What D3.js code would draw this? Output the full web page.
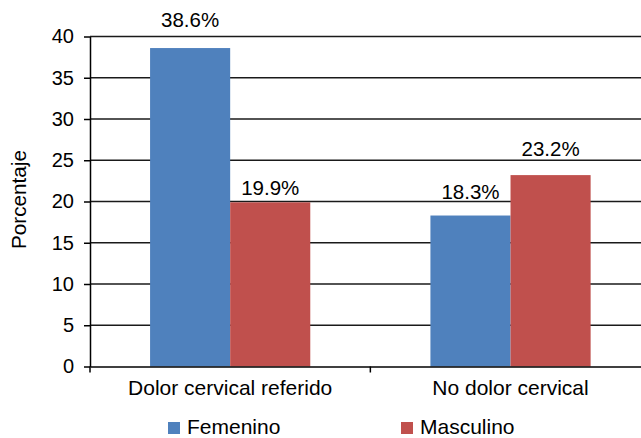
<!DOCTYPE html>
<html>
<head>
<meta charset="utf-8">
<script src="https://cdn.jsdelivr.net/npm/d3@7"></script>
<style>
  html, body { margin: 0; padding: 0; background: #fff; }
  svg { display: block; font-family: "Liberation Sans", Arial, sans-serif; }
</style>
</head>
<body>
<svg id="chart" width="641" height="438"></svg>
<script>
// Percentages by group and sex
const categories = ["Dolor cervical referido", "No dolor cervical"];
const seriesNames = ["Femenino", "Masculino"];
const femenino = [38.6, 18.3];
const masculino = [19.9, 23.2];
const yTicks = [0, 5, 10, 15, 20, 25, 30, 35, 40];
const colors = ["#4F81BD", "#C0504D"];
// Gap (px) between each value label baseline and its bar top, per series / category
const labelGap = [[21.3, 16.2], [7.3, 19.5]];

const series = [femenino, masculino];
const svg = d3.select("#chart");
const FONT = "Liberation Sans, Arial, sans-serif";

const plotLeft = 90, plotRight = 650.7, plotTop = 36.5, plotBottom = 366.5;

const x = d3.scaleBand().domain(categories).range([plotLeft, plotRight]).paddingInner(0).paddingOuter(0);
const xInner = d3.scaleBand().domain(seriesNames).range([0, x.bandwidth()]).paddingInner(0).paddingOuter(0.75);
const y = d3.scaleLinear().domain([0, 40]).range([plotBottom, plotTop]);

// Horizontal gridlines
svg.append("g").selectAll("line").data(yTicks.filter(t => t > 0)).join("line")
  .attr("x1", plotLeft).attr("x2", plotRight)
  .attr("y1", d => y(d)).attr("y2", d => y(d))
  .attr("stroke", "#1a1a1a").attr("stroke-width", 1.5);

// Bars
const groups = svg.append("g").selectAll("g").data(categories).join("g")
  .attr("transform", d => `translate(${x(d)},0)`);

const cells = (c, i) => seriesNames.map((s, k) => ({ s, v: series[k][i], k, i }));

groups.selectAll("rect").data(cells)
  .join("rect")
  .attr("x", d => xInner(d.s))
  .attr("width", xInner.bandwidth())
  .attr("y", d => y(d.v))
  .attr("height", d => y(0) - y(d.v))
  .attr("fill", d => colors[d.k]);

// Value labels
groups.selectAll("text").data(cells)
  .join("text")
  .attr("x", d => xInner(d.s) + xInner.bandwidth() / 2)
  .attr("y", d => y(d.v) - labelGap[d.k][d.i])
  .attr("text-anchor", "middle")
  .attr("font-size", 20.5)
  .attr("fill", "#000")
  .text(d => d.v.toFixed(1) + "%");

// Y axis
const yAxis = d3.axisLeft(y).tickValues(yTicks).tickSize(6).tickPadding(10).tickSizeOuter(0);
const gy = svg.append("g").attr("transform", `translate(${plotLeft},0)`).call(yAxis);
gy.attr("font-family", FONT);
gy.select(".domain").attr("stroke", "#000").attr("stroke-width", 1.5);
gy.selectAll(".tick line").attr("stroke", "#000").attr("stroke-width", 1.5);
gy.selectAll(".tick text").attr("font-size", 20).attr("fill", "#000");

// X axis
const xAxis = d3.axisBottom(x).tickSize(0).tickPadding(13.5);
const gx = svg.append("g").attr("transform", `translate(0,${plotBottom})`).call(xAxis);
gx.attr("font-family", FONT);
gx.select(".domain").attr("stroke", "#000").attr("stroke-width", 1.5);
gx.selectAll(".tick text").attr("font-size", 21).attr("fill", "#000");

// Category separator ticks
const edges = [plotLeft].concat(categories.map(c => x(c) + x.bandwidth()));
svg.append("g").selectAll("line").data(edges).join("line")
  .attr("x1", d => d).attr("x2", d => d)
  .attr("y1", plotBottom).attr("y2", plotBottom + 6)
  .attr("stroke", "#000").attr("stroke-width", 1.5);

// Y axis title
svg.append("text")
  .attr("transform", `translate(25.5,199.5) rotate(-90)`)
  .attr("text-anchor", "middle")
  .attr("font-size", 20.7)
  .attr("fill", "#000")
  .text("Porcentaje");

// Legend
const legendX = [168, 401];
const legend = svg.append("g").selectAll("g").data(seriesNames).join("g")
  .attr("transform", (d, i) => `translate(${legendX[i]},422)`);
legend.append("rect").attr("width", 12).attr("height", 12).attr("fill", (d, i) => colors[i]);
legend.append("text").attr("x", 19).attr("y", 12).attr("font-size", 21).attr("fill", "#000").text(d => d);
</script>
</body>
</html>
